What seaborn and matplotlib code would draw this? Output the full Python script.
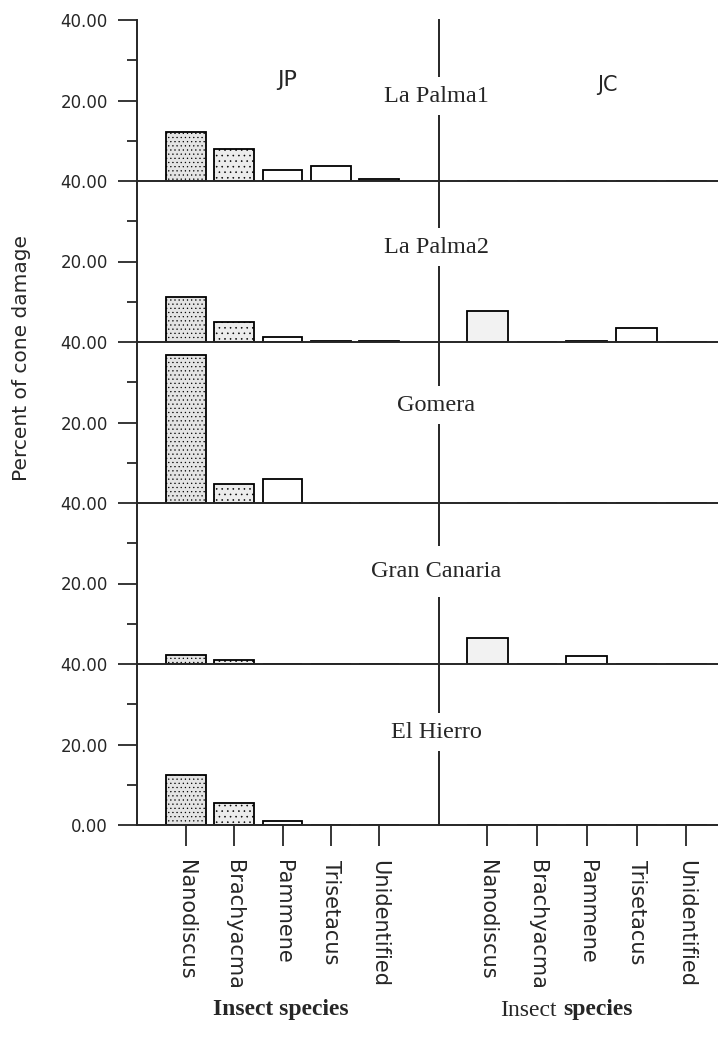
import matplotlib
matplotlib.use("Agg")
import matplotlib.pyplot as plt
import seaborn as sns

# species on the x axis and the islands (one strip each)
species = ["Nanodiscus", "Brachyacma", "Pammene", "Trisetacus", "Unidentified"]
sites = ["La Palma1", "La Palma2", "Gomera", "Gran Canaria", "El Hierro"]

# percent of cone damage, JP (left half)
jp_lapalma1 = [12.2, 8.0, 2.7, 3.7, 0.5]
jp_lapalma2 = [11.2, 5.0, 1.2, 0.3, 0.3]
jp_gomera = [36.8, 4.7, 6.0, 0.0, 0.0]
jp_grancanaria = [2.2, 1.1, 0.0, 0.0, 0.0]
jp_elhierro = [12.3, 5.4, 0.9, 0.0, 0.0]

# percent of cone damage, JC (right half)
jc_lapalma1 = [0.0, 0.0, 0.0, 0.0, 0.0]
jc_lapalma2 = [7.7, 0.0, 0.3, 3.5, 0.0]
jc_gomera = [0.0, 0.0, 0.0, 0.0, 0.0]
jc_grancanaria = [6.5, 0.0, 2.0, 0.0, 0.0]
jc_elhierro = [0.0, 0.0, 0.0, 0.0, 0.0]

jp_rows = [jp_lapalma1, jp_lapalma2, jp_gomera, jp_grancanaria, jp_elhierro]
jc_rows = [jc_lapalma1, jc_lapalma2, jc_gomera, jc_grancanaria, jc_elhierro]

sns.set_style("ticks")
plt.rcParams["font.family"] = ["DejaVu Sans"]
plt.rcParams["hatch.linewidth"] = 0.4

W, H = 718, 1041
fig = plt.figure(figsize=(W / 100, H / 100), dpi=100)

left_x0, left_w = 137 / W, 302 / W
right_x0 = 439 / W
right_w = 1.01 - right_x0
top = 1 - 20 / H
row_h = 161 / H

# vertical placement of the island names inside each strip
name_y = [21.0, 23.5, 24.3, 23.0, 23.0]
name_pad = [0.35, 0.35, 0.35, 0.6, 0.35]

# stippled fill on the bars (light grey + fine dots)
jp_fill = ["#e4e4e4", "#ececec", "white", "white", "white"]
jp_hatch = ["....", "...", "", "", ""]
jc_fill = ["#f2f2f2", "white", "white", "white", "white"]

serif = "Liberation Serif"

for i, site in enumerate(sites):
    bottom = top - (i + 1) * row_h
    ax_l = fig.add_axes([left_x0, bottom, left_w, row_h])
    ax_r = fig.add_axes([right_x0, bottom, right_w, row_h])
    ax_r.set_zorder(-1)

    for ax, vals, fills, hatches in [(ax_l, jp_rows[i], jp_fill, jp_hatch),
                                     (ax_r, jc_rows[i], jc_fill, [""] * 5)]:
        sns.barplot(x=species, y=vals, ax=ax, color="white", edgecolor="black",
                    linewidth=1.3, width=0.82, saturation=1)
        for p, fc, h in zip(ax.patches, fills, hatches):
            p.set_facecolor(fc)
            p.set_hatch(h)
        ax.set_ylim(0, 40)
        ax.set_xlabel("")
        ax.set_ylabel("")
        ax.patch.set_alpha(0)
        for s in ["top", "right"]:
            ax.spines[s].set_visible(False)
        ax.spines["left"].set_linewidth(1.4)
        ax.spines["bottom"].set_linewidth(1.4)

    ax_l.set_xlim(-1.015, 5.24)
    ax_r.set_xlim(-0.97, 4.78)

    # y axis only on the left half
    if i == len(sites) - 1:
        ax_l.set_yticks([0, 20, 40], ["0.00", "20.00", "40.00"])
    else:
        ax_l.set_yticks([20, 40], ["20.00", "40.00"])
    ax_l.set_yticks([10, 30], minor=True)
    ax_l.tick_params(axis="y", which="major", length=14, width=1.3, pad=7, labelsize=12)
    ax_l.tick_params(axis="y", which="minor", length=7, width=1.3)
    ax_r.tick_params(axis="y", left=False, labelleft=False, which="both")

    if i == len(sites) - 1:
        for ax in (ax_l, ax_r):
            ax.set_xticks(range(len(species)))
            ax.set_xticklabels(species, rotation=-90, fontsize=15)
            ax.tick_params(axis="x", length=15, width=1.3, pad=10)
    else:
        for ax in (ax_l, ax_r):
            ax.tick_params(axis="x", bottom=False, labelbottom=False)

    fig.text(5.18, name_y[i], site, transform=ax_l.transData, ha="center", va="center",
             family=serif, fontsize=17.5, zorder=10,
             bbox=dict(boxstyle=f"square,pad={name_pad[i]}", fc="white", ec="none"))

    if i == 0:
        ax_l.text(2.09, 25.1, "JP", ha="center", va="center", fontsize=16)
        ax_r.text(2.42, 23.9, "JC", ha="center", va="center", fontsize=15)

fig.text(22 / W, 1 - 358 / H, "Percent of cone damage", rotation=90,
         ha="center", va="center", fontsize=14.5)

fig.text(281 / W, 1 - 1010 / H, "Insect species", ha="center", va="center",
         family=serif, fontweight="bold", fontsize=17)
fig.text(557 / W, 1 - 1010 / H, "Insect", ha="right", va="center",
         family=serif, fontsize=17)
fig.text(563 / W, 1 - 1010 / H, "species", ha="left", va="center",
         family=serif, fontweight="bold", fontsize=17)

fig.savefig("out.png", dpi=100)
